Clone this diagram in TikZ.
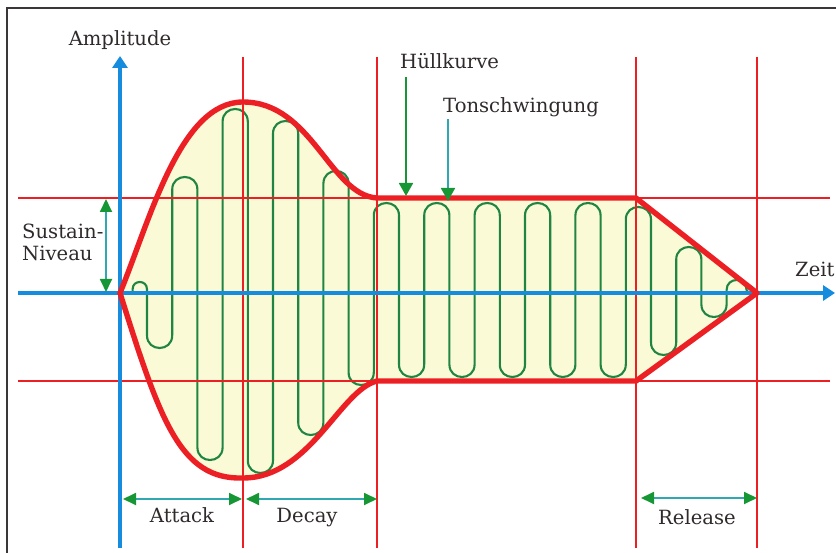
\documentclass[tikz,border=0pt]{standalone}
\usepackage{fontspec}
\setmainfont{DejaVu Serif}
\usetikzlibrary{arrows.meta}
\definecolor{redc}{RGB}{236,32,36}
\definecolor{bluec}{RGB}{22,140,222}
\definecolor{wavec}{RGB}{32,132,66}
\definecolor{arrowg}{RGB}{22,150,52}
\definecolor{tealc}{RGB}{48,168,178}
\definecolor{fillc}{RGB}{250,250,214}
\definecolor{textc}{RGB}{48,42,42}
\definecolor{framec}{RGB}{60,55,55}
\tikzset{
  thinred/.style={draw=redc,line width=1.9pt},
  axis/.style={draw=bluec,line width=4.6pt,-{Triangle[length=12pt,width=15pt]}},
  envelope/.style={draw=redc,line width=5.4pt,line join=round},
  wave/.style={draw=wavec,line width=2.1pt},
  span/.style={draw=tealc,line width=1.8pt,{Triangle[length=13pt,width=12pt,color=arrowg]}-{Triangle[length=13pt,width=12pt,color=arrowg]}},
  pointer/.style={draw=arrowg,line width=1.8pt,-{Triangle[length=13pt,width=14pt,color=arrowg]}},
  lbl/.style={text=textc,font=\fontsize{19.6}{23}\selectfont,inner sep=0pt}
}
\begin{document}
\begin{tikzpicture}[x=1pt,y=-1pt]
\useasboundingbox (0,0) rectangle (836,553);
% frame
\draw[framec,line width=2pt] (7,553) -- (7,8) -- (836,8);
% envelope fill
\path[fill=fillc] (120,293) .. controls (150,220) and (180,102) .. (243,102)
  .. controls (312,102) and (330,195) .. (377,198) -- (636,198) -- (757,293)
  -- (636,381) -- (377,381) .. controls (340,390) and (310,478) .. (243,478)
  .. controls (180,480) and (160,420) .. (120,293) -- cycle;
% waveform
\draw[wave] (122,293) -- (132.6,293) -- (132.6,289.2) .. controls (132.6,279.6) and (147,279.6) .. (147,289.2)
 -- (147,335.4) .. controls (147,352.2) and (172.2,352.2) .. (172.2,335.4)
 -- (172.2,189.6) .. controls (172.2,172.8) and (197.4,172.8) .. (197.4,189.6)
 -- (197.4,447.4) .. controls (197.4,464.2) and (222.6,464.2) .. (222.6,447.4)
 -- (222.6,121.6) .. controls (222.6,104.8) and (247.8,104.8) .. (247.8,121.6)
 -- (247.8,460.4) .. controls (247.8,477.2) and (273,477.2) .. (273,460.4)
 -- (273,133.6) .. controls (273,116.8) and (298.2,116.8) .. (298.2,133.6)
 -- (298.2,422.4) .. controls (298.2,439.2) and (323.4,439.2) .. (323.4,422.4)
 -- (323.4,183.6) .. controls (323.4,166.8) and (348.6,166.8) .. (348.6,183.6)
 -- (348.6,372.4) .. controls (348.6,389.2) and (373.8,389.2) .. (373.8,372.4)
 -- (373.8,215.6) .. controls (373.8,198.8) and (399,198.8) .. (399,215.6)
 -- (399,364.4) .. controls (399,381.2) and (424.2,381.2) .. (424.2,364.4)
 -- (424.2,215.6) .. controls (424.2,198.8) and (449.4,198.8) .. (449.4,215.6)
 -- (449.4,364.4) .. controls (449.4,381.2) and (474.6,381.2) .. (474.6,364.4)
 -- (474.6,215.6) .. controls (474.6,198.8) and (499.8,198.8) .. (499.8,215.6)
 -- (499.8,364.4) .. controls (499.8,381.2) and (525,381.2) .. (525,364.4)
 -- (525,215.6) .. controls (525,198.8) and (550.2,198.8) .. (550.2,215.6)
 -- (550.2,364.4) .. controls (550.2,381.2) and (575.4,381.2) .. (575.4,364.4)
 -- (575.4,215.6) .. controls (575.4,198.8) and (600.6,198.8) .. (600.6,215.6)
 -- (600.6,364.4) .. controls (600.6,381.2) and (625.8,381.2) .. (625.8,364.4)
 -- (625.8,219.6) .. controls (625.8,202.8) and (651,202.8) .. (651,219.6)
 -- (651,342.4) .. controls (651,359.2) and (676.2,359.2) .. (676.2,342.4)
 -- (676.2,259.6) .. controls (676.2,242.8) and (701.4,242.8) .. (701.4,259.6)
 -- (701.4,304.4) .. controls (701.4,321.2) and (726.6,321.2) .. (726.6,304.4)
 -- (726.6,290) .. controls (726.6,276.7) and (746.6,276.7) .. (746.6,290)
 .. controls (746.6,292) and (750,293) .. (756,293);
% thin red grid lines
\draw[thinred] (18,198) -- (830,198);
\draw[thinred] (18,381) -- (830,381);
\foreach \xx in {243,377,636,757} \draw[thinred] (\xx,57) -- (\xx,548);
% axes
\coordinate (yb) at (120,548); \coordinate (yt) at (120,56);
\coordinate (xl) at (18,293); \coordinate (xr) at (835,293);
\draw[axis] (yb) -- (yt);
\draw[axis] (xl) -- (xr);
% envelope
\draw[envelope] (120,293) .. controls (150,220) and (180,102) .. (243,102)
  .. controls (312,102) and (330,195) .. (377,198) -- (636,198) -- (757,293)
  -- (636,381) -- (377,381) .. controls (340,390) and (310,478) .. (243,478)
  .. controls (180,480) and (160,420) .. (120,293) -- cycle;
% span arrows
\coordinate (a1) at (123,499); \coordinate (a2) at (242,499);
\coordinate (d1) at (246,499); \coordinate (d2) at (377,499);
\coordinate (r1) at (641,498); \coordinate (r2) at (757,498);
\draw[span] (a1) -- (a2);
\draw[span] (d1) -- (d2);
\draw[span] (r1) -- (r2);
\coordinate (s1) at (106,199); \coordinate (s2) at (106,292);
\draw[span] (s1) -- (s2);
% pointers
\coordinate (h1) at (406,77); \coordinate (h2) at (406,196);
\coordinate (t1) at (448,119); \coordinate (t2) at (448,201);
\draw[pointer] (h1) -- (h2);
\draw[pointer,draw=tealc] (t1) -- (t2);
% labels
\node[lbl,anchor=base] (amp) at (120,46) {Amplitude};
\node[lbl,anchor=base west] (hk) at (400,69) {Hüllkurve};
\node[lbl,anchor=base west] (ts) at (443,113) {Tonschwingung};
\node[lbl,anchor=base west] (sus) at (22,239) {Sustain-};
\node[lbl,anchor=base west] (niv) at (22,261) {Niveau};
\node[lbl,anchor=base west] (zeit) at (795,277) {Zeit};
\node[lbl,anchor=base] (att) at (182,522) {Attack};
\node[lbl,anchor=base] (dec) at (307,522) {Decay};
\node[lbl,anchor=base] (rel) at (697,524) {Release};
\end{tikzpicture}
\end{document}
